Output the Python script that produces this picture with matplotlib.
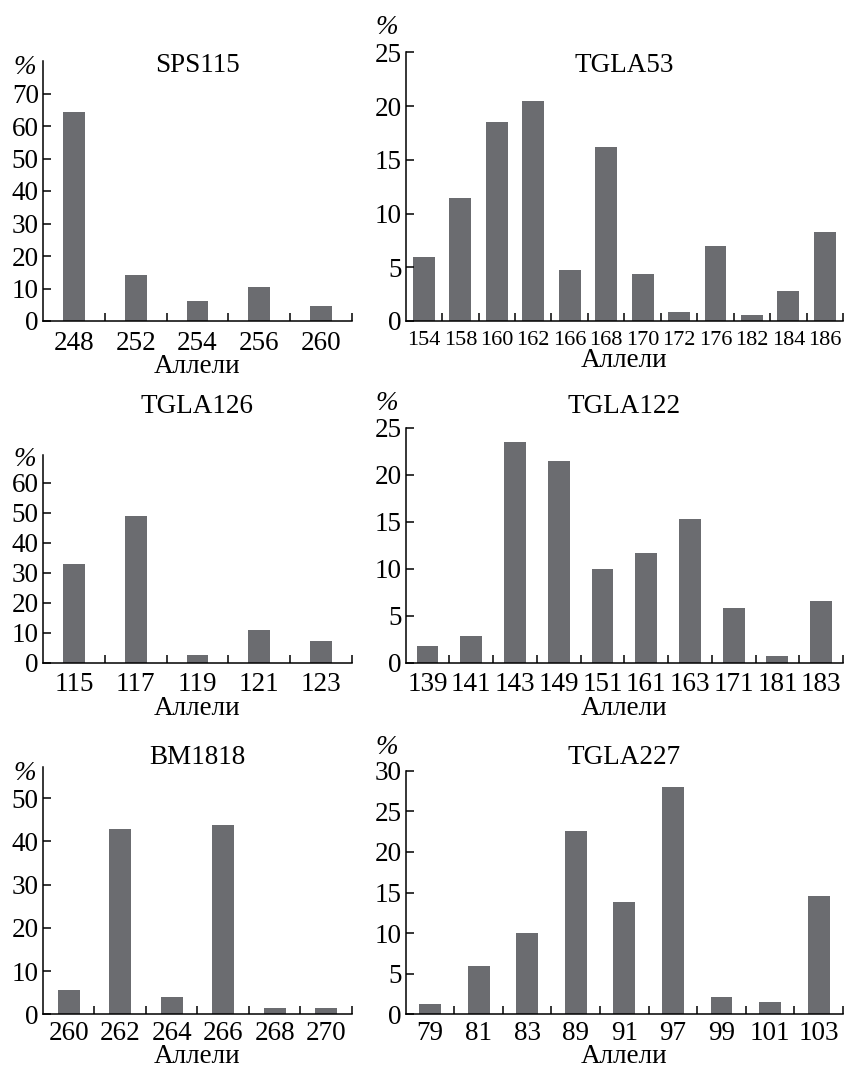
import matplotlib
matplotlib.use('Agg')
import matplotlib.pyplot as plt
import numpy as np

plt.rcParams['font.family'] = ['Liberation Serif', 'DejaVu Serif']

# Частоты аллелей, %
sps115_alleles = ['248', '252', '254', '256', '260']
sps115_freq = [64.2, 14.2, 6.2, 10.5, 4.6]

tgla53_alleles = ['154', '158', '160', '162', '166', '168', '170', '172', '176', '182', '184', '186']
tgla53_freq = [6.0, 11.4, 18.5, 20.5, 4.7, 16.2, 4.4, 0.8, 7.0, 0.55, 2.8, 8.3]

tgla126_alleles = ['115', '117', '119', '121', '123']
tgla126_freq = [32.9, 48.9, 2.6, 10.9, 7.2]

tgla122_alleles = ['139', '141', '143', '149', '151', '161', '163', '171', '181', '183']
tgla122_freq = [1.8, 2.8, 23.5, 21.5, 10.0, 11.7, 15.3, 5.8, 0.7, 6.6]

bm1818_alleles = ['260', '262', '264', '266', '268', '270']
bm1818_freq = [5.6, 42.9, 3.9, 43.8, 1.5, 1.5]

tgla227_alleles = ['79', '81', '83', '89', '91', '97', '99', '101', '103']
tgla227_freq = [1.3, 5.9, 10.0, 22.6, 13.8, 28.0, 2.1, 1.5, 14.6]

W, H = 845, 1069
BAR_COLOR = '#6b6c70'
FS = 19.5

fig = plt.figure(figsize=(W / 100, H / 100), dpi=100)


def fx(x):
    return x / W


def fy(y):
    return 1 - y / H


def panel(box, alleles, freq, ymax, yticks, bar_w, title, title_y, pct_xy,
          tick_fs=FS, tpad=7, lpad=-1):
    left, right, top, bottom = box
    ax = fig.add_axes([fx(left), fy(bottom), fx(right) - fx(left), fy(top) - fy(bottom)])
    n = len(alleles)
    x = np.arange(n)
    ax.bar(x, freq, width=bar_w, color=BAR_COLOR)
    ax.set_xlim(-0.5, n - 0.5)
    ax.set_ylim(0, ymax)
    for s in ['top', 'right']:
        ax.spines[s].set_visible(False)
    for s in ['left', 'bottom']:
        ax.spines[s].set_linewidth(1.1)
    # метки на границах категорий, подписи по центру
    ax.set_xticks(np.arange(n) + 0.5)
    ax.set_xticklabels([])
    ax.set_xticks(x, minor=True)
    ax.set_xticklabels(alleles, minor=True, fontsize=tick_fs)
    ax.tick_params(axis='x', which='major', direction='in', length=6, width=1.1)
    ax.tick_params(axis='x', which='minor', length=0, pad=tpad)
    ax.set_yticks(yticks)
    ax.tick_params(axis='y', direction='in', length=6, width=1.1, labelsize=FS, pad=3)
    ax.set_xlabel('Аллели', fontsize=FS, labelpad=lpad)
    fig.text(fx((left + right) / 2), fy(title_y), title, fontsize=FS, ha='center', va='center')
    fig.text(fx(pct_xy[0]), fy(pct_xy[1]), '%', fontsize=FS, style='italic', ha='center', va='center')
    return ax


panel((43, 352, 61, 321), sps115_alleles, sps115_freq, 80, range(0, 71, 10), 0.35,
      'SPS115', 66, (25, 68))
panel((405.7, 843, 52.3, 321), tgla53_alleles, tgla53_freq, 25, range(0, 26, 5), 0.6,
      'TGLA53', 66, (387, 27), tick_fs=16)
panel((43, 352, 455, 662.7), tgla126_alleles, tgla126_freq, 69.2, range(0, 61, 10), 0.35,
      'TGLA126', 407, (25, 460))
panel((405.7, 843, 427.7, 662.7), tgla122_alleles, tgla122_freq, 25, range(0, 26, 5), 0.5,
      'TGLA122', 407, (387, 403))
panel((43, 352, 766.7, 1014.3), bm1818_alleles, bm1818_freq, 57.3, range(0, 51, 10), 0.42,
      'BM1818', 758, (25, 773), tpad=5, lpad=-1.5)
panel((405.7, 843, 770.7, 1014.3), tgla227_alleles, tgla227_freq, 30, range(0, 31, 5), 0.45,
      'TGLA227', 758, (387, 747), tpad=5, lpad=-1.5)

fig.savefig('out.png', dpi=100, facecolor='white')
